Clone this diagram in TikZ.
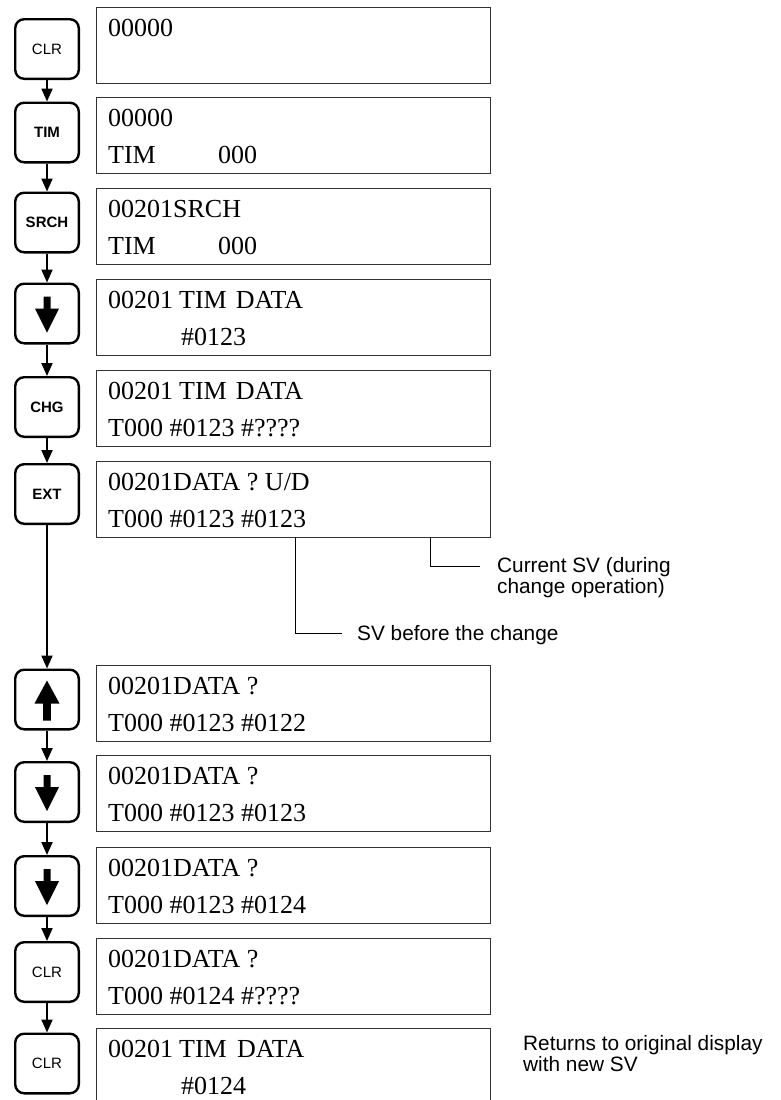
\documentclass[tikz,border=0pt]{standalone}
\usepackage{fontspec}
\setmainfont{Liberation Serif}
\newfontfamily\arialf{Liberation Sans}
\usetikzlibrary{arrows.meta}
\tikzset{
  downarr/.pic={\fill[black] (-3.5,-17) -- (3.5,-17) -- (3.5,-5) -- (12,-5) -- (0,19) -- (-12,-5) -- (-3.5,-5) -- cycle;},
  uparr/.pic={\fill[black] (-3.8,21) -- (3.8,21) -- (3.8,4) -- (12.5,4) -- (0,-19) -- (-12.5,4) -- (-3.8,4) -- cycle;}
}
\newcommand{\dlines}[2]{\begin{tabular}[t]{@{}l@{}}#1\\#2\end{tabular}}
\begin{document}
\begin{tikzpicture}[x=1pt,y=-1pt,
 key/.style={draw=black, line width=2.4pt, rounded corners=9pt, minimum width=63.6pt, minimum height=59.6pt, inner sep=0pt, font=\arialf\fontsize{15}{17}\selectfont},
 keyb/.style={key, font=\arialf\bfseries\fontsize{15}{17}\selectfont},
 disp/.style={draw=black!80, line width=1.1pt, minimum width=394pt, minimum height=75.5pt, anchor=north west, inner sep=0pt},
 dtext/.style={anchor=base west, inner sep=0pt, font=\fontsize{26}{36.5}\selectfont},
 conn/.style={line width=2pt, -{Triangle[length=13pt,width=11pt]}},
 ann/.style={line width=1pt},
 anno/.style={anchor=base west, inner sep=0pt, font=\arialf\fontsize{20.8}{21.5}\selectfont}
]
\useasboundingbox (0,0) rectangle (780,1100);

% displays
\node[disp] (d1) at (96,7) {};
\node[disp] (d2) at (96,97) {};
\node[disp] (d3) at (96,188) {};
\node[disp] (d4) at (96,279) {};
\node[disp] (d5) at (96,370) {};
\node[disp] (d6) at (96,461) {};
\node[disp] (d7) at (96,665) {};
\node[disp] (d8) at (96,755) {};
\node[disp] (d9) at (96,847) {};
\node[disp] (d10) at (96,938) {};
\node[disp] (d11) at (96,1028) {};

% display texts
\node[dtext] (t1) at (108,36.5) {\dlines{00000}{}};
\node[dtext] (t2) at (108,126.5) {\dlines{00000}{\makebox[110pt][l]{TIM}000}};
\node[dtext] (t3) at (108,217.5) {\dlines{00201SRCH}{\makebox[110pt][l]{TIM}000}};
\node[dtext] (t4) at (108,308.5) {\dlines{\makebox[71pt][l]{00201}TIM\hspace{9pt}DATA}{\hspace{73pt}\#0123}};
\node[dtext] (t5) at (108,399.5) {\dlines{\makebox[71pt][l]{00201}TIM\hspace{9pt}DATA}{T000 \#0123 \#????}};
\node[dtext] (t6) at (108,490.5) {\dlines{00201DATA ? U/D}{T000 \#0123 \#0123}};
\node[dtext] (t7) at (108,694.5) {\dlines{00201DATA ?}{T000 \#0123 \#0122}};
\node[dtext] (t8) at (108,784.5) {\dlines{00201DATA ?}{T000 \#0123 \#0123}};
\node[dtext] (t9) at (108,876.5) {\dlines{00201DATA ?}{T000 \#0123 \#0124}};
\node[dtext] (t10) at (108,967.5) {\dlines{00201DATA ?}{T000 \#0124 \#????}};
\node[dtext] (t11) at (108,1057.5) {\dlines{\makebox[71pt][l]{00201}\makebox[58pt][l]{TIM}DATA}{\hspace{73pt}\#0124}};

% keys
\node[key] (k1) at (47,49) {CLR};
\node[keyb] (k2) at (47,132.5) {TIM};
\node[keyb] (k3) at (47,222.5) {SRCH};
\node[key] (k4) at (47,313.5) {};
\node[keyb] (k5) at (47,407) {CHG};
\node[keyb] (k6) at (47,494) {EXT};
\node[key] (k7) at (47,699.5) {};
\node[key] (k8) at (47,792) {};
\node[key] (k9) at (47,886) {};
\node[key] (k10) at (47,972) {CLR};
\node[key] (k11) at (47,1063.5) {CLR};

\pic at (k4.center) {downarr};
\pic at (k7.center) {uparr};
\pic at (k8.center) {downarr};
\pic at (k9.center) {downarr};

% connectors
\draw[conn] (k1) -- (k2);
\draw[conn] (k2) -- (k3);
\draw[conn] (k3) -- (k4);
\draw[conn] (k4) -- (k5);
\draw[conn] (k5) -- (k6);
\draw[conn] (k6) -- (k7);
\draw[conn] (k7) -- (k8);
\draw[conn] (k8) -- (k9);
\draw[conn] (k9) -- (k10);
\draw[conn] (k10) -- (k11);

% annotations
\coordinate (a1) at (430,537);
\coordinate (a1e) at (480,566);
\coordinate (b1) at (295,537);
\coordinate (b1e) at (342,633);
\draw[ann] (a1) |- (a1e);
\draw[ann] (b1) |- (b1e);
\node[anno] (cur) at (497,572) {\begin{tabular}[t]{@{}l@{}}Current SV (during\\change operation)\end{tabular}};
\node[anno] (bef) at (357,640.5) {SV before the change};
\node[anno] (ret) at (523,1050) {\begin{tabular}[t]{@{}l@{}}Returns to original display\\with new SV\end{tabular}};
\end{tikzpicture}
\end{document}
